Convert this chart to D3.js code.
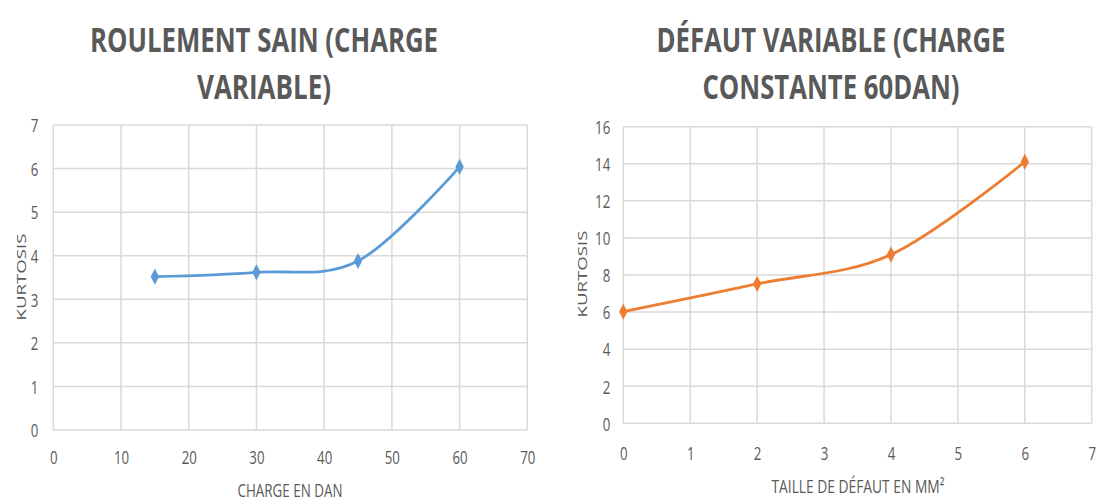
<!DOCTYPE html>
<html><head><meta charset="utf-8">
<script src="https://cdn.jsdelivr.net/npm/d3@7"></script>
<style>body{margin:0;background:#fff}svg{display:block}</style>
</head><body>
<svg id="c" width="1096" height="500"></svg>
<script>
// ---- data ----
const leftTitle = ["ROULEMENT SAIN (CHARGE", "VARIABLE)"];
const leftXLabel = "CHARGE EN DAN";
const leftYLabel = "KURTOSIS";
const leftX = [15, 30, 45, 60];
const leftY = [3.52, 3.62, 3.88, 6.04];
const leftXTicks = [0, 10, 20, 30, 40, 50, 60, 70];
const leftYTicks = [0, 1, 2, 3, 4, 5, 6, 7];

const rightTitle = ["DÉFAUT VARIABLE (CHARGE", "CONSTANTE 60DAN)"];
const rightXLabel = "TAILLE DE DÉFAUT EN MM²";
const rightYLabel = "KURTOSIS";
const rightX = [0, 2, 4, 6];
const rightY = [6.02, 7.52, 9.1, 14.11];
const rightXTicks = [0, 1, 2, 3, 4, 5, 6, 7];
const rightYTicks = [0, 2, 4, 6, 8, 10, 12, 14, 16];

const svg = d3.select("#c");
const TXT = "#595959", GRID = "#d9d9d9";

function drawChart(o) {
  const x = d3.scaleLinear().domain([o.xTicks[0], o.xTicks[o.xTicks.length-1]]).range([o.left, o.right]);
  const y = d3.scaleLinear().domain([o.yTicks[0], o.yTicks[o.yTicks.length-1]]).range([o.bottom, o.top]);
  const g = svg.append("g");

  // grid
  g.append("g").selectAll("line").data(o.yTicks).join("line")
    .attr("x1", o.left).attr("x2", o.right).attr("y1", d => y(d)).attr("y2", d => y(d))
    .attr("stroke", GRID).attr("stroke-width", 1.5);
  g.append("g").selectAll("line").data(o.xTicks).join("line")
    .attr("y1", o.top).attr("y2", o.bottom).attr("x1", d => x(d)).attr("x2", d => x(d))
    .attr("stroke", GRID).attr("stroke-width", 1.5);

  // axes (labels only)
  const ya = g.append("g").attr("transform", `translate(${o.left},0)`)
    .call(d3.axisLeft(y).tickValues(o.yTicks).tickSize(0).tickFormat(d3.format("d")));
  ya.select(".domain").remove();
  ya.selectAll("text").attr("x", 0).attr("dy", "0.36em")
    .attr("transform", `translate(${-o.yTickGap},0) scale(0.7,1)`)
    .attr("fill", TXT).style("font", "19px 'Open Sans', sans-serif");

  const xa = g.append("g").attr("transform", `translate(0,${o.bottom})`)
    .call(d3.axisBottom(x).tickValues(o.xTicks).tickSize(0).tickFormat(d3.format("d")));
  xa.select(".domain").remove();
  xa.selectAll("text").attr("y", 0).attr("dy", 0)
    .attr("transform", `translate(0,${o.xTickDy - o.bottom}) scale(0.7,1)`)
    .attr("fill", TXT).style("font", "19px 'Open Sans', sans-serif");

  // titles
  o.title.forEach((t, i) => {
    g.append("text").attr("x", o.titleX).attr("y", o.titleY[i])
      .attr("text-anchor", "middle").attr("fill", TXT)
      .style("font", "bold 34px 'Open Sans', sans-serif")
      .attr("textLength", o.titleW[i]).attr("lengthAdjust", "spacingAndGlyphs")
      .text(t);
  });

  // axis titles
  g.append("text").attr("x", o.xLabelX).attr("y", o.xLabelY).attr("text-anchor", "middle")
    .attr("fill", TXT).style("font", "19px 'Open Sans', sans-serif")
    .attr("textLength", o.xLabelW).attr("lengthAdjust", "spacingAndGlyphs").text(o.xLabel);
  g.append("text").attr("text-anchor", "middle")
    .attr("transform", `translate(${o.yLabelX},${o.yLabelY}) scale(0.75,1) rotate(-90)`)
    .attr("fill", TXT).style("font", "17px 'Open Sans', sans-serif")
    .attr("textLength", 87).attr("lengthAdjust", "spacingAndGlyphs").text(o.yLabel);

  // line
  const pts = o.xs.map((d, i) => [d, o.ys[i]]);
  const line = d3.line().x(d => x(d[0])).y(d => y(d[1])).curve(d3.curveCardinal.tension(0));
  g.append("path").datum(pts).attr("d", line).attr("fill", "none")
    .attr("stroke", o.color).attr("stroke-width", 2.8).attr("stroke-linejoin", "round");
  g.append("g").selectAll("path").data(pts).join("path")
    .attr("transform", d => `translate(${x(d[0])},${y(d[1])}) scale(0.9,1)`)
    .attr("d", d3.symbol(d3.symbolDiamond, 75)).attr("fill", o.color);
}

drawChart({
  title: leftTitle, xLabel: leftXLabel, yLabel: leftYLabel,
  xs: leftX, ys: leftY, xTicks: leftXTicks, yTicks: leftYTicks,
  left: 53.3, right: 527.3, top: 125, bottom: 430, xTickDy: 464, yTickGap: 15,
  titleX: 264, titleY: [52, 99], titleW: [348, 134],
  xLabelX: 290, xLabelY: 497, xLabelW: 105,
  yLabelX: 26, yLabelY: 277, color: "#5B9BD5"
});
drawChart({
  title: rightTitle, xLabel: rightXLabel, yLabel: rightYLabel,
  xs: rightX, ys: rightY, xTicks: rightXTicks, yTicks: rightYTicks,
  left: 623.3, right: 1091.7, top: 126.7, bottom: 423.3, xTickDy: 460, yTickGap: 13,
  titleX: 831, titleY: [52, 99], titleW: [349, 257],
  xLabelX: 858, xLabelY: 493, xLabelW: 173,
  yLabelX: 587, yLabelY: 274, color: "#ED7D31"
});
</script>
</body></html>
